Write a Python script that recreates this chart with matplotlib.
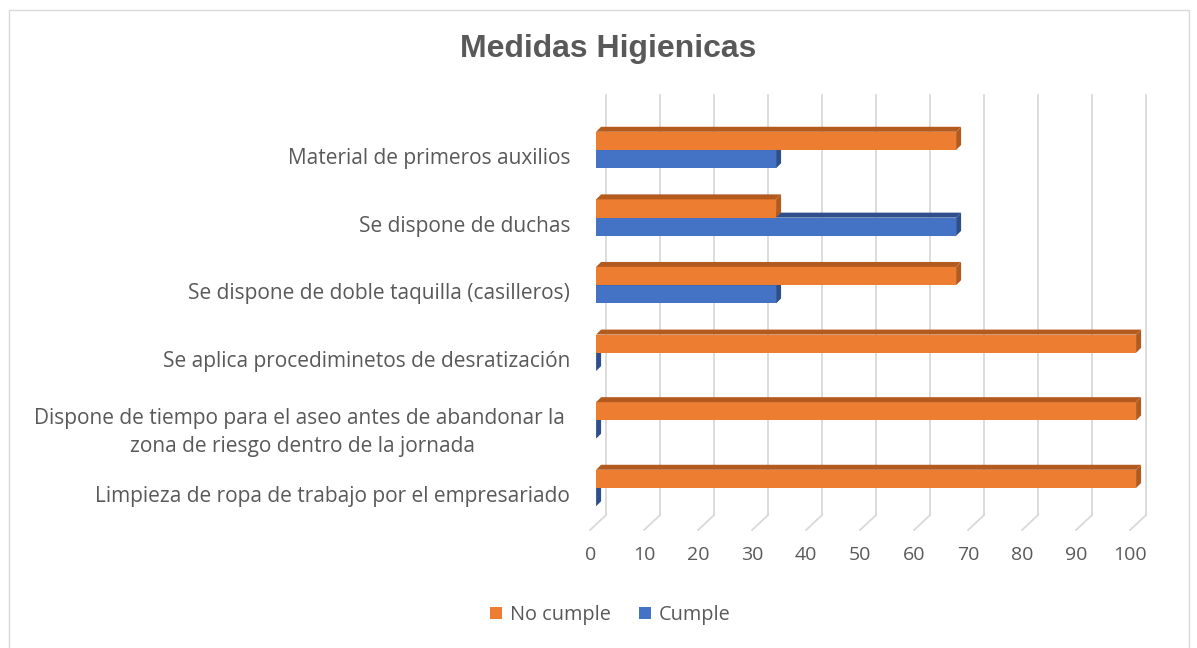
import matplotlib.pyplot as plt
from matplotlib.patches import Polygon, Rectangle

categorias = [
    "Limpieza de ropa de trabajo por el empresariado",
    "Dispone de tiempo para el aseo antes de abandonar la \nzona de riesgo dentro de la jornada",
    "Se aplica procediminetos de desratización",
    "Se dispone de doble taquilla (casilleros)",
    "Se dispone de duchas",
    "Material de primeros auxilios",
]
no_cumple = [100, 100, 100, 66.67, 33.33, 66.67]
cumple = [0, 0, 0, 33.33, 66.67, 33.33]
ticks_x = [0, 10, 20, 30, 40, 50, 60, 70, 80, 90, 100]

naranja, naranja_osc = "#ED7D31", "#B35A1F"
azul, azul_osc = "#4472C4", "#2E4F8C"
gris = "#595959"
fuente = "Open Sans"

fig = plt.figure(figsize=(11.97, 6.48), dpi=100)
ax = fig.add_axes([0.498, 0.1821, 0.4511, 0.6713])
ax.set_xlim(0, 100)
ax.set_ylim(-0.621, 5.814)
for s in ax.spines.values():
    s.set_visible(False)
ax.set_xticks([])

# pixel -> data conversion used for the fake 3D depth
px_x = 100 / 540.0
px_y = 1 / 67.6
dx, dy = 5 * px_x, 5 * px_y
h = 0.27

# gridlines: back wall + floor diagonal
y_back = -27 * px_y
for v in ticks_x:
    xb = v + 10 * px_x
    ax.plot([xb, xb], [y_back, 5.814], color="#D9D9D9", lw=1.3, clip_on=False, zorder=1)
    ax.plot([xb, v - 6 * px_x], [y_back, -0.621], color="#D9D9D9", lw=1.3, clip_on=False, zorder=1)
    ax.text(v - 1.1, -0.99, str(v), ha="center", va="center", fontsize=14, color=gris,
            family=fuente)


def barra(y0, v, c, c2):
    y1 = y0 + h
    ax.add_patch(Rectangle((0, y0), v, h, facecolor=c, edgecolor="none", zorder=3,
                           clip_on=False))
    ax.add_patch(Polygon([(0, y1), (v, y1), (v + dx, y1 + dy), (dx, y1 + dy)],
                         facecolor=c2, edgecolor="none", zorder=3, clip_on=False))
    ax.add_patch(Polygon([(v, y0), (v + dx, y0 + dy), (v + dx, y1 + dy), (v, y1)],
                         facecolor=c2, edgecolor="none", zorder=3, clip_on=False))


for i in range(len(categorias)):
    barra(i - h, cumple[i], azul, azul_osc)
    barra(i, no_cumple[i], naranja, naranja_osc)

ax.set_yticks([i - 0.09 for i in range(len(categorias))])
ax.set_yticklabels(categorias, fontsize=15, color=gris, family=fuente, multialignment="center",
                   linespacing=1.45)
ax.tick_params(axis="y", length=0, pad=18.7)

fig.text(0.508, 0.925, "Medidas Higienicas", ha="center", va="center", fontsize=23,
         fontweight="bold", color=gris, family="Liberation Sans")

hs = [Rectangle((0, 0), 1, 1, facecolor=naranja), Rectangle((0, 0), 1, 1, facecolor=azul)]
fig.legend(hs, ["No cumple", "Cumple"], loc="center", bbox_to_anchor=(0.51, 0.051), ncol=2,
           frameon=False, prop={"family": fuente, "size": 14.3}, labelcolor=gris,
           handlelength=0.6, handleheight=0.6, handletextpad=0.4, columnspacing=1.4)

fig.add_artist(Rectangle((9 / 1197, -0.05), 1180 / 1197, 1.035, transform=fig.transFigure,
                         fill=False, edgecolor="#D9D9D9", lw=1))

fig.savefig("out.png", dpi=100)
